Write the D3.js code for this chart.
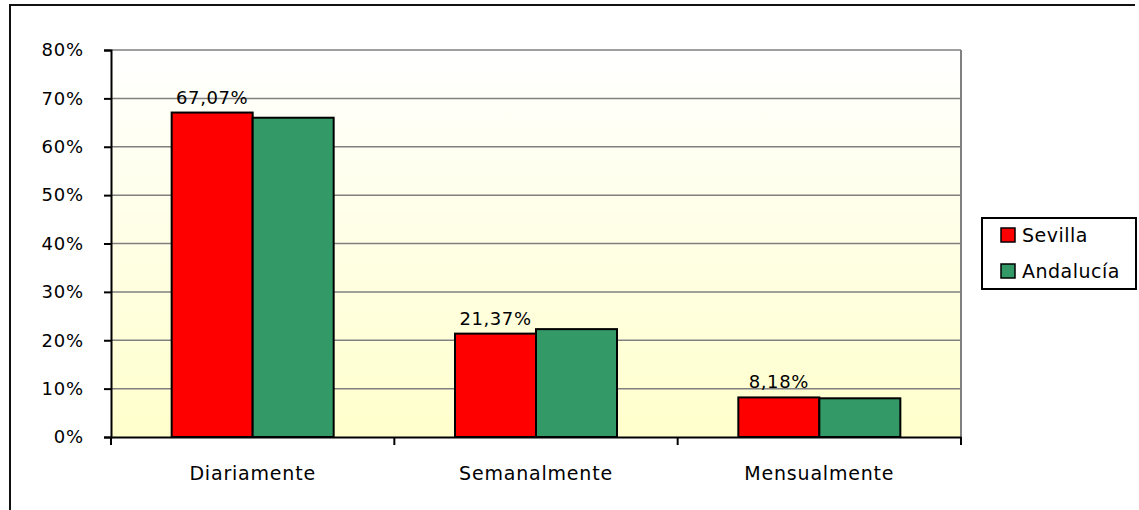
<!DOCTYPE html>
<html>
<head>
<meta charset="utf-8">
<script src="https://cdn.jsdelivr.net/npm/d3@7"></script>
<style>
  body { margin: 0; background: #fff; }
  text { font-family: "DejaVu Sans", Verdana, sans-serif; fill: #000; }
</style>
</head>
<body>
<script>
const WIDTH = 1139
const HEIGHT = 510

// datos
const categorias = ["Diariamente", "Semanalmente", "Mensualmente"]
const series = ["Sevilla", "Andalucía"]
const sevilla = [67.07, 21.37, 8.18]
const andalucia = [66.0, 22.3, 8.0]
const etiquetas = ["67,07%", "21,37%", "8,18%"]
const ticksY = [0, 10, 20, 30, 40, 50, 60, 70, 80]
const colores = ["#ff0000", "#339966"]

const svg = d3.select("body")
    .append("svg")
    .attr("width", WIDTH)
    .attr("height", HEIGHT)

// borde exterior (solo arriba e izquierda se ven)
svg.append("path")
    .attr("d", "M10,510 L10,5 L1135,5")
    .attr("fill", "none")
    .attr("stroke", "#111")
    .attr("stroke-width", 2)

const pIzq = 111, pSup = 50, pDer = 961, pInf = 437

const x0 = d3.scaleBand().domain(categorias).range([pIzq, pDer])
const x1 = d3.scaleBand().domain(series).range([0, 162])
const y = d3.scaleLinear().domain([0, 80]).range([pInf, pSup])

// fondo degradado
const grad = svg.append("defs").append("linearGradient")
    .attr("id", "fondo").attr("x1", 0).attr("y1", 0).attr("x2", 0).attr("y2", 1)
grad.append("stop").attr("offset", "0%").attr("stop-color", "#ffffff")
grad.append("stop").attr("offset", "100%").attr("stop-color", "#ffffcc")

svg.append("rect")
    .attr("x", pIzq).attr("y", pSup)
    .attr("width", pDer - pIzq).attr("height", pInf - pSup)
    .attr("fill", "url(#fondo)")

// lineas de cuadricula
svg.append("g")
    .selectAll("line")
    .data(ticksY.slice(1))
    .enter()
    .append("line")
    .attr("x1", pIzq).attr("x2", pDer)
    .attr("y1", d => y(d)).attr("y2", d => y(d))
    .attr("stroke", "#808080")
    .attr("stroke-width", 1.5)

svg.append("line")
    .attr("x1", pDer).attr("x2", pDer)
    .attr("y1", pSup).attr("y2", pInf)
    .attr("stroke", "#808080")
    .attr("stroke-width", 2)

// barras
const datos = categorias.map((c, i) => ({ c, vals: [sevilla[i], andalucia[i]] }))

const grupos = svg.append("g")
    .selectAll("g")
    .data(datos)
    .enter()
    .append("g")
    .attr("transform", d => "translate(" + (x0(d.c) + (x0.bandwidth() - 162) / 2) + ",0)")

grupos.selectAll("rect")
    .data(d => d.vals.map((v, j) => ({ s: series[j], v })))
    .enter()
    .append("rect")
    .attr("x", d => x1(d.s))
    .attr("y", d => y(d.v))
    .attr("width", x1.bandwidth())
    .attr("height", d => pInf - y(d.v))
    .attr("fill", (d, j) => colores[j])
    .attr("stroke", "#000")
    .attr("stroke-width", 2)

// etiquetas de datos (solo Sevilla)
grupos.append("text")
    .attr("x", x1("Sevilla") + x1.bandwidth() / 2)
    .attr("y", (d) => y(d.vals[0]) - 9)
    .attr("text-anchor", "middle")
    .style("font-size", "18px")
    .style("letter-spacing", "0.6px")
    .text((d, i) => etiquetas[i])

// eje Y
const ejeY = svg.append("g")
    .attr("transform", "translate(" + pIzq + ",0)")
    .call(d3.axisLeft(y).tickValues(ticksY).tickFormat(d => d + "%").tickSize(7).tickPadding(20))
ejeY.select(".domain").attr("stroke", "#000").attr("stroke-width", 2)
ejeY.selectAll(".tick line").attr("stroke", "#000").attr("stroke-width", 2)
ejeY.selectAll(".tick text")
    .style("font-size", "18px")
    .style("letter-spacing", "0.8px")
    .style("font-family", "DejaVu Sans, Verdana, sans-serif")

// eje X
const ejeX = svg.append("g")
    .attr("transform", "translate(0," + pInf + ")")
    .call(d3.axisBottom(x0).tickSize(0).tickPadding(30))
ejeX.select(".domain").attr("stroke", "#000").attr("stroke-width", 2)
ejeX.selectAll(".tick text")
    .style("font-size", "19px")
    .style("letter-spacing", "0.8px")
    .style("font-family", "DejaVu Sans, Verdana, sans-serif")

// marcas entre categorias
ejeX.selectAll(".sep")
    .data(categorias.concat(["fin"]))
    .enter()
    .append("line")
    .attr("x1", (d, i) => i < 3 ? x0(d) : pDer)
    .attr("x2", (d, i) => i < 3 ? x0(d) : pDer)
    .attr("y1", 0).attr("y2", 8)
    .attr("stroke", "#000").attr("stroke-width", 2)

// leyenda
const leyenda = svg.append("g").attr("transform", "translate(982,218)")
leyenda.append("rect")
    .attr("width", 154).attr("height", 71)
    .attr("fill", "#fff").attr("stroke", "#000").attr("stroke-width", 2)

const items = leyenda.selectAll(".item")
    .data(series)
    .enter()
    .append("g")
    .attr("transform", (d, i) => "translate(19," + (10 + i * 36) + ")")

items.append("rect")
    .attr("width", 14).attr("height", 14)
    .attr("fill", (d, i) => colores[i])
    .attr("stroke", "#000").attr("stroke-width", 1.5)

items.append("text")
    .attr("x", 21).attr("y", 14)
    .style("font-size", "19px")
    .style("letter-spacing", "0.5px")
    .text(d => d)
</script>
</body>
</html>
